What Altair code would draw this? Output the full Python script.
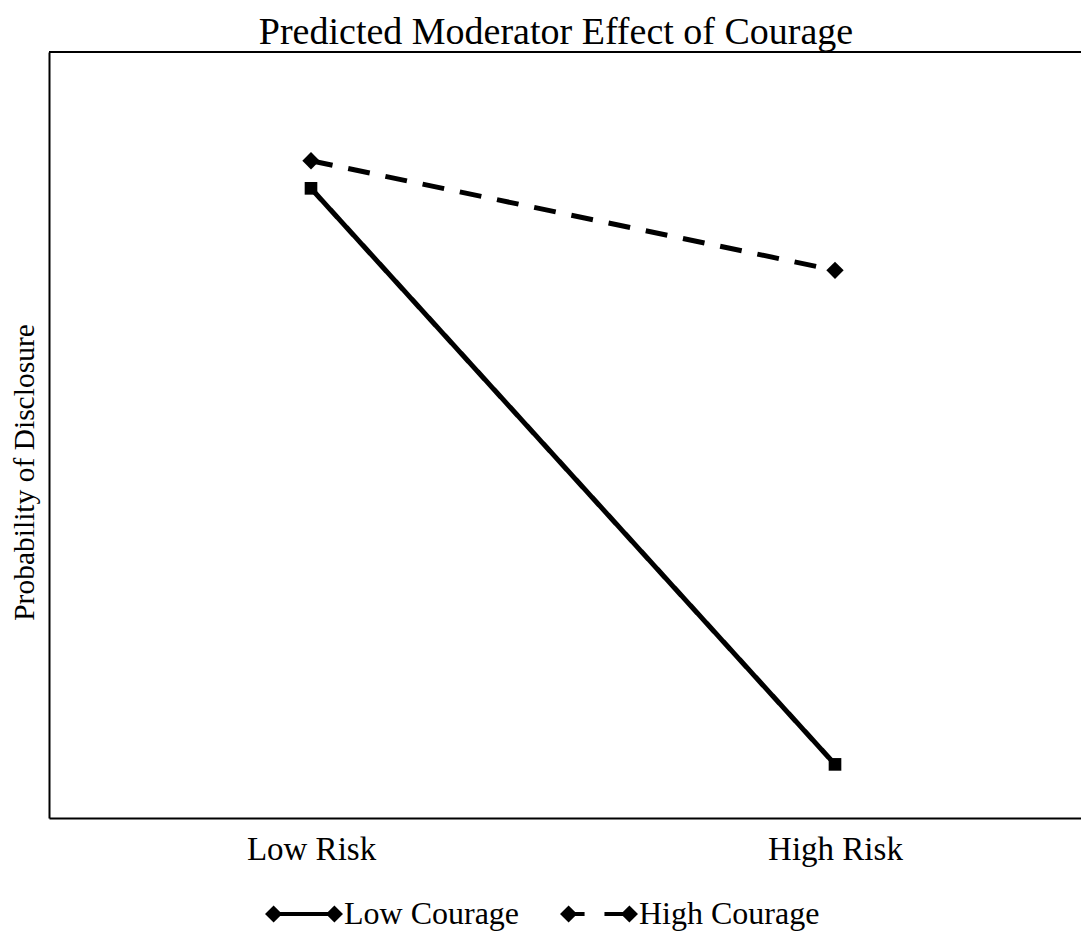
import altair as alt
import pandas as pd

# ---- data ----
risk_levels = ["Low Risk", "High Risk"]
courage_levels = ["Low Courage", "High Courage"]
low_courage = [0.822, 0.070]
high_courage = [0.858, 0.715]

rows = []
for r, v in zip(risk_levels, low_courage):
    rows.append({"Risk": r, "Courage": "Low Courage", "Probability": v})
for r, v in zip(risk_levels, high_courage):
    rows.append({"Risk": r, "Courage": "High Courage", "Probability": v})
df = pd.DataFrame(rows)

FONT = "Liberation Serif"
W, H = 1032, 766
XR = 1048

# custom legend symbols: diamond - line - diamond (solid / dashed)
solid_sym = ("M-1,0L-0.78,-0.22L-0.56,0L-0.78,0.22Z "
             "M-0.78,-0.05L0.78,-0.05L0.78,0.05L-0.78,0.05Z "
             "M0.56,0L0.78,-0.22L1,0L0.78,0.22Z")
dashed_sym = ("M-1,0L-0.78,-0.22L-0.56,0L-0.78,0.22Z "
              "M-0.78,-0.05L-0.37,-0.05L-0.37,0.05L-0.78,0.05Z "
              "M0.14,-0.05L0.78,-0.05L0.78,0.05L0.14,0.05Z "
              "M0.56,0L0.78,-0.22L1,0L0.78,0.22Z")

x = alt.X("Risk:N", sort=risk_levels,
          scale=alt.Scale(domain=risk_levels, range=[0, XR]),
          axis=alt.Axis(title=None, ticks=False, labelFontSize=33, labelFont=FONT,
                        labelColor="black", labelPadding=15, domainColor="black",
                        domainWidth=2, labelAngle=0, grid=False))
y = alt.Y("Probability:Q", scale=alt.Scale(domain=[0, 1]),
          axis=alt.Axis(title="Probability of Disclosure", ticks=False, labels=False,
                        grid=False, domainColor="black", domainWidth=2,
                        titleFont=FONT, titleFontSize=29.5, titleFontWeight="normal",
                        titleColor="black", titleX=-25, titleY=420, titleAngle=270,
                        titleAlign="center", titleBaseline="middle"))

lines = alt.Chart(df).mark_line(color="black", strokeWidth=5).encode(
    x=x, y=y,
    strokeDash=alt.StrokeDash("Courage:N", scale=alt.Scale(domain=courage_levels,
                              range=[[1, 0], [22, 16]]), legend=None),
    detail="Courage:N",
)

points = alt.Chart(df).mark_point(filled=True, color="black", opacity=1).encode(
    x=x, y=y,
    shape=alt.Shape("Courage:N", scale=alt.Scale(domain=courage_levels,
                    range=["square", "diamond"]), legend=None),
    size=alt.Size("Courage:N", scale=alt.Scale(domain=courage_levels,
                  range=[160, 300]), legend=None),
)

legend_layer = alt.Chart(df).mark_point(filled=True, color="black", opacity=0).encode(
    x=x, y=y,
    shape=alt.Shape("Courage:N",
                    scale=alt.Scale(domain=courage_levels, range=[solid_sym, dashed_sym]),
                    legend=alt.Legend(title=None, orient="none", legendX=216, legendY=823,
                                      direction="horizontal", symbolSize=6084,
                                      symbolOpacity=1, symbolFillColor="black",
                                      symbolStrokeWidth=0, labelFont=FONT,
                                      labelFontSize=32, labelColor="black",
                                      labelOffset=1, columnPadding=40,
                                      labelLimit=400)),
)

top_border = alt.Chart(df).mark_rule(color="black", strokeWidth=2).encode(
    x=alt.value(0), x2=alt.value(XR), y=alt.value(0)
)

chart = alt.layer(top_border, lines, points, legend_layer).resolve_scale(
    shape="independent", size="independent"
).properties(
    width=W, height=H,
    title=alt.TitleParams("Predicted Moderator Effect of Courage", font=FONT,
                          fontSize=38, fontWeight="normal", color="black",
                          anchor="middle", offset=3, dx=-9, dy=4),
    autosize=alt.AutoSizeParams(type="none"),
    padding={"left": 41, "top": 44, "right": 0, "bottom": 115},
).configure_view(stroke=None)

chart.save("out.html", embed_options={"renderer": "svg", "actions": False})
